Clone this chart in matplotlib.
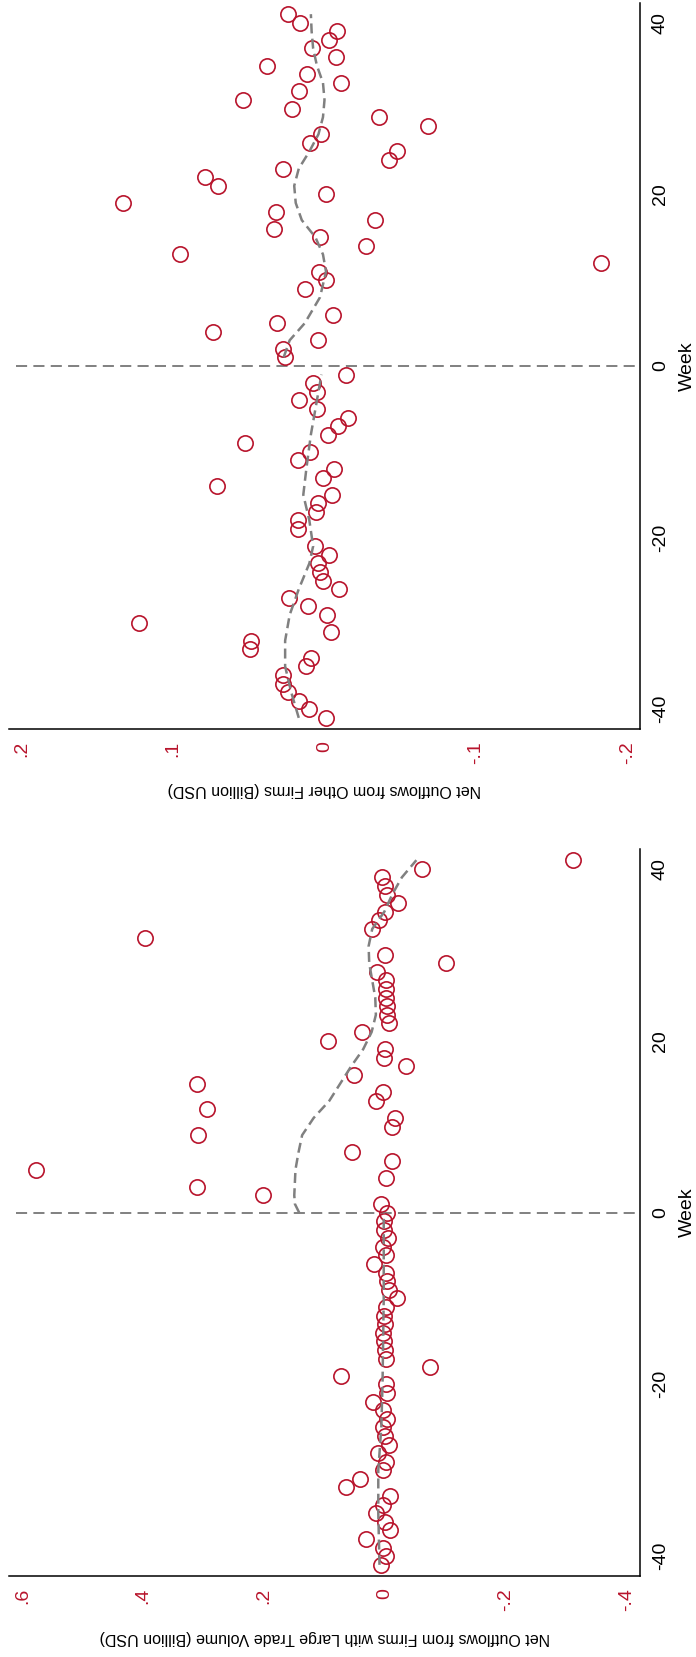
import matplotlib.pyplot as plt

plt.rcParams["font.family"] = ["Liberation Sans", "DejaVu Sans"]
plt.rcParams["lines.scale_dashes"] = False

RED = "#b8142c"
GRAY = "#808080"

week_ticks = [-40, -20, 0, 20, 40]
week_labels = ["-40", "-20", "0", "20", "40"]

# upper panel: other firms
weeks_other = [-41, -40, -39, -38, -37, -36, -35, -34, -33, -32, -31, -30, -29, -28,
               -27, -26, -25, -24, -23, -22, -21, -19, -18, -17, -16, -15, -14, -13,
               -12, -11, -10, -9, -8, -7, -6, -5, -4, -3, -2, -1,
               1, 2, 3, 4, 5, 6, 9, 10, 11, 12, 13, 14, 15, 16, 17, 18, 19, 20,
               21, 22, 23, 24, 25, 26, 27, 28, 29, 30, 31, 32, 33, 34, 35, 36,
               37, 38, 39, 40, 41]
flows_other = [-0.0013, 0.0100, 0.0167, 0.0240, 0.0276, 0.0276, 0.0125, 0.0090, 0.0495,
               0.0486, -0.0046, 0.1223, -0.0019, 0.0106, 0.0234, -0.0094, 0.0009, 0.0028,
               0.0045, -0.0033, 0.0061, 0.0173, 0.0173, 0.0059, 0.0040, -0.0050, 0.0709,
               0.0012, -0.0063, 0.0176, 0.0095, 0.0523, -0.0024, -0.0086, -0.0155, 0.0048,
               0.0167, 0.0048, 0.0073, -0.0139,
               0.0261, 0.0276, 0.0045, 0.0737, 0.0317, -0.0055, 0.0128, -0.0011, 0.0034,
               -0.1828, 0.0957, -0.0272, 0.0028, 0.0334, -0.0335, 0.0320, 0.1331, -0.0013,
               0.0704, 0.0792, 0.0276, -0.0427, -0.0480, 0.0095, 0.0026, -0.0683, -0.0363,
               0.0215, 0.0539, 0.0167, -0.0111, 0.0114, 0.0381, -0.0077, 0.0084, -0.0030,
               -0.0080, 0.0159, 0.0242]
fit_pre_weeks_other = [-41, -38, -35, -32, -29, -26, -23, -21, -18, -15, -12, -8, -5, -2, -1]
fit_pre_other = [0.017, 0.022, 0.026, 0.026, 0.023, 0.017, 0.010, 0.0075, 0.010, 0.014,
                 0.012, 0.009, 0.006, 0.003, 0.002]
fit_post_weeks_other = [1, 3, 5, 8, 11, 13, 15, 17, 19, 21, 23, 25, 27, 29, 31, 33, 35, 37, 39, 41]
fit_post_other = [0.027, 0.023, 0.013, 0.003, -0.001, 0.001, 0.006, 0.015, 0.019, 0.020,
                  0.017, 0.010, 0.004, 0.001, 0.0, 0.001, 0.005, 0.0075, 0.0085, 0.009]
ticks_other = [0.2, 0.1, 0, -0.1, -0.2]
tick_labels_other = [".2", ".1", "0", "-.1", "-.2"]

# lower panel: firms with large trade volume
weeks_large = list(range(-41, 8)) + [9, 10, 11, 12, 13, 14, 15, 16, 17, 18, 19, 20,
                                     21, 22, 23, 24, 25, 26, 27, 28, 29, 30,
                                     32, 33, 34, 35, 36, 37, 38, 39, 40, 41]
flows_large = [0.007, -0.002, 0.003, 0.031, -0.008, 0.0, 0.014, 0.003, -0.009, 0.065,
               0.041, 0.003, -0.002, 0.012, -0.006, 0.0, 0.003, -0.004, 0.003, 0.020,
               -0.003, -0.002, 0.073, -0.075, -0.002, 0.0, 0.001, 0.003, 0.0, 0.001,
               -0.001, -0.020, -0.006, -0.003, -0.001, 0.018, -0.002, 0.003, -0.005,
               0.002, 0.002, -0.003,
               0.007, 0.202, 0.311, -0.002, 0.578, -0.012, 0.054,
               0.310, -0.012, -0.017, 0.295, 0.014, 0.003, 0.311, 0.051, -0.035, 0.002,
               0.0, 0.094, 0.038, -0.007, -0.003, -0.003, -0.001, -0.001, -0.001, 0.013,
               -0.101, 0.0, 0.397, 0.021, 0.010, 0.0, -0.022, -0.003, 0.0, 0.005,
               -0.061, -0.311]
fit_pre_weeks_large = [-41, -35, -30, -25, -20, -15, -10, -5, 0]
fit_pre_large = [0.009, 0.011, 0.011, 0.006, 0.004, 0.003, 0.002, 0.002, 0.002]
fit_post_weeks_large = [0, 1, 2, 5, 7, 9, 11, 13, 15, 17, 19, 21, 23, 25, 27, 29, 31, 33,
                        35, 37, 39, 41]
fit_post_large = [0.142, 0.149, 0.150, 0.148, 0.143, 0.137, 0.118, 0.092, 0.074, 0.056,
                  0.036, 0.022, 0.015, 0.016, 0.021, 0.026, 0.027, 0.021, 0.001, -0.012,
                  -0.028, -0.052]
ticks_large = [0.6, 0.4, 0.2, 0, -0.2, -0.4]
tick_labels_large = [".6", ".4", ".2", "0", "-.2", "-.4"]


def draw_panel(ax, weeks, flows, pre_w, pre_v, post_w, post_v,
               xlim, ticks, tick_labels, title):
    ax.axhline(0, xmin=0.011, color=GRAY, lw=1.4, dashes=(8, 4.5), zorder=1)
    ax.plot(flows, weeks, "o", ms=11, mfc="none", mec=RED, mew=1.2, zorder=2)
    ax.plot(pre_v, pre_w, color=GRAY, lw=1.8, dashes=(7.2, 3.8), zorder=3)
    ax.plot(post_v, post_w, color=GRAY, lw=1.8, dashes=(7.2, 3.8), zorder=3)

    ax.set_xlim(xlim)
    ax.set_ylim(-42.3, 42.3)
    for side in ["left", "top"]:
        ax.spines[side].set_visible(False)
    for side in ["right", "bottom"]:
        ax.spines[side].set_linewidth(1.1)

    ax.yaxis.tick_right()
    ax.set_yticks(week_ticks)
    ax.set_yticklabels(week_labels, rotation=90, va="center")
    ax.set_xticks(ticks)
    ax.set_xticklabels(tick_labels, rotation=90, color=RED)
    ax.tick_params(length=0, pad=8.5, labelsize=14)

    ax.text(1.0745, 0.5, "Week", rotation=90, ha="center", va="center",
            fontsize=14, transform=ax.transAxes)
    ax.text(0.5, -0.084, title, rotation=180, ha="center", va="center",
            fontsize=11.5, transform=ax.transAxes)


fig = plt.figure(figsize=(6.96, 16.57), dpi=100)
ax_top = fig.add_axes([0.01293, 0.56004, 0.9066, 0.43814])
ax_bot = fig.add_axes([0.01293, 0.04888, 0.9066, 0.43875])

draw_panel(ax_top, weeks_other, flows_other,
           fit_pre_weeks_other, fit_pre_other, fit_post_weeks_other, fit_post_other,
           (0.2084, -0.2084), ticks_other, tick_labels_other,
           "Net Outflows from Other Firms (Billion USD)")
draw_panel(ax_bot, weeks_large, flows_large,
           fit_pre_weeks_large, fit_pre_large, fit_post_weeks_large, fit_post_large,
           (0.622, -0.422), ticks_large, tick_labels_large,
           "Net Outflows from Firms with Large Trade Volume (Billion USD)")

fig.savefig("out.png", dpi=100)
